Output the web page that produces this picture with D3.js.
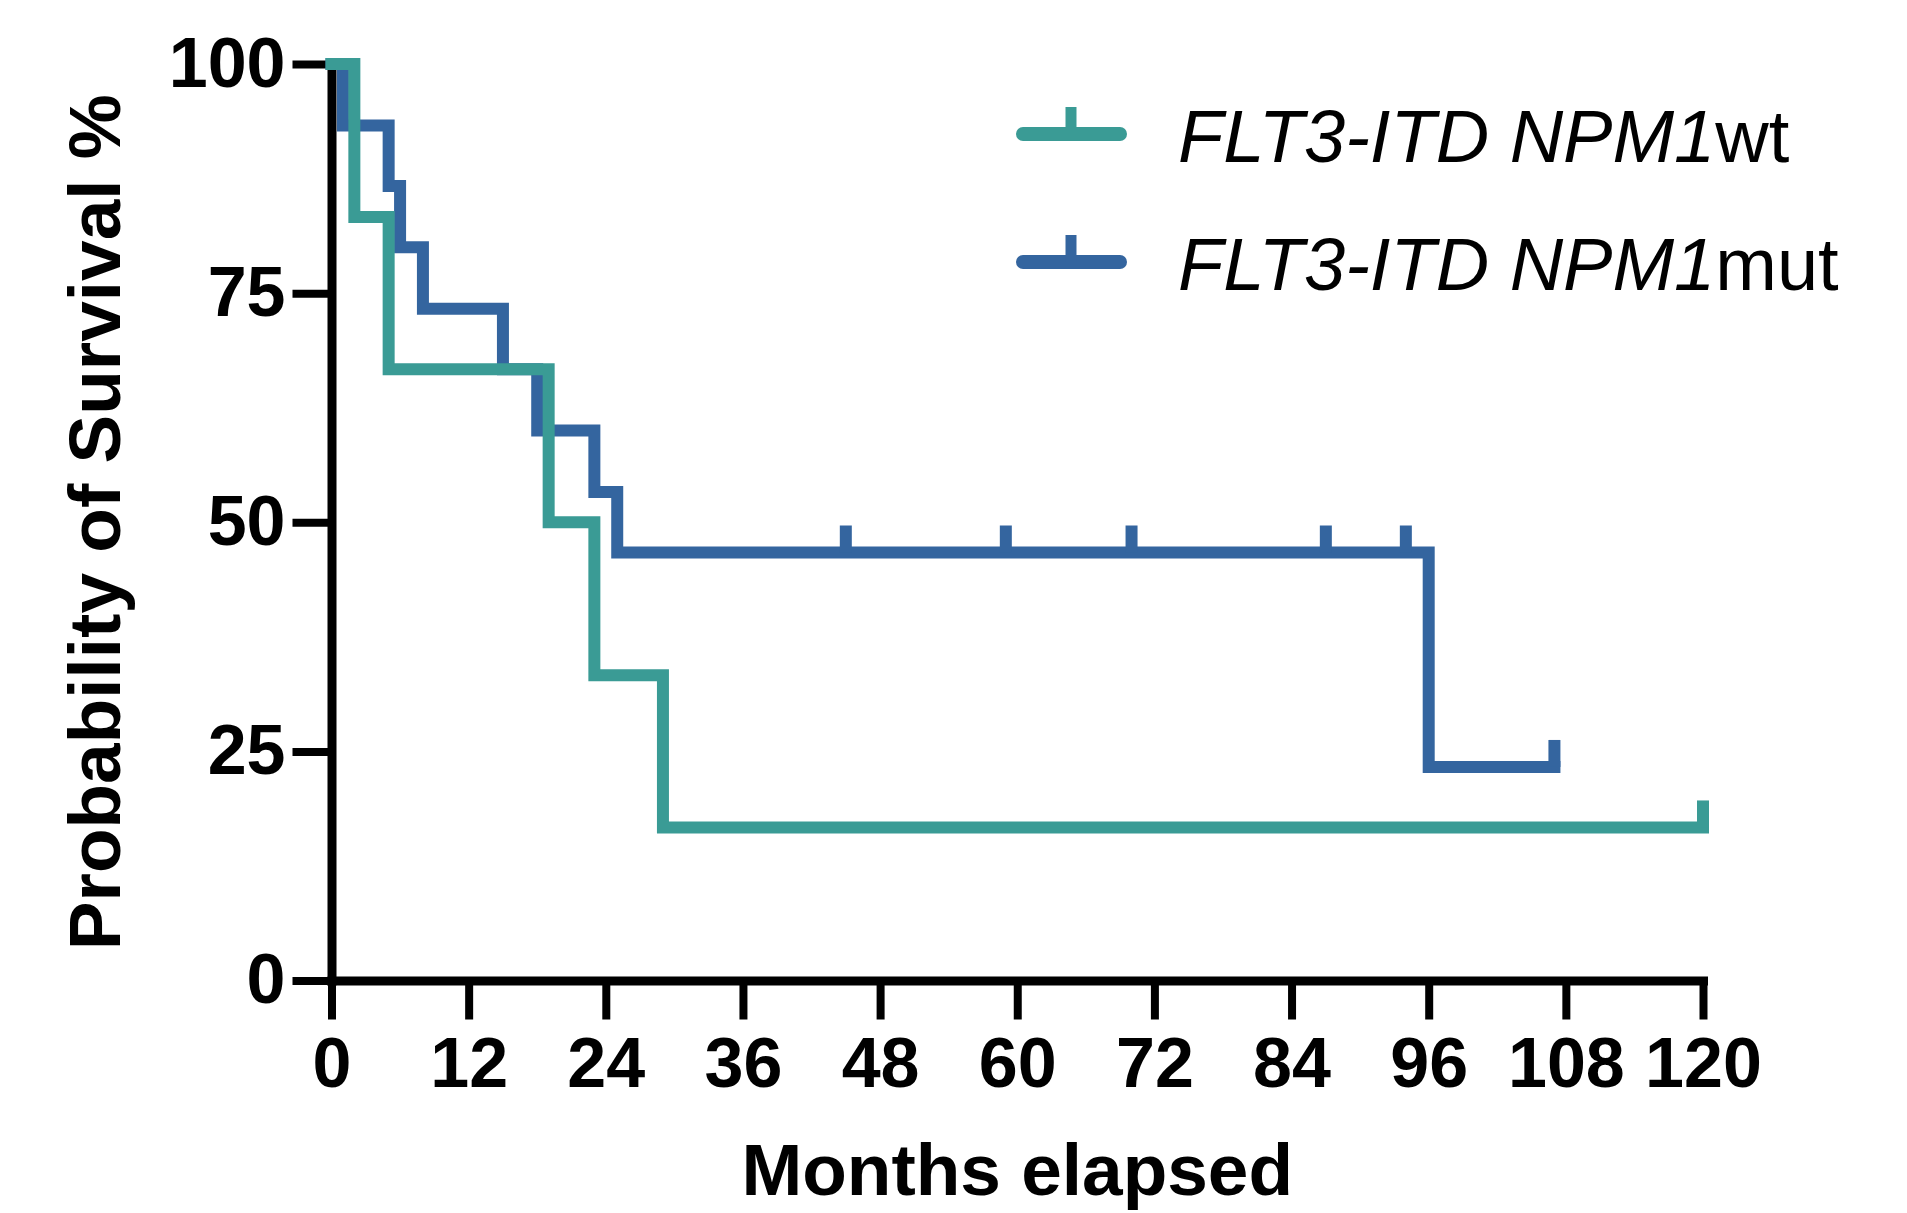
<!DOCTYPE html>
<html>
<head>
<meta charset="utf-8">
<script src="https://cdn.jsdelivr.net/npm/d3@7"></script>
<style>
  html, body { margin: 0; padding: 0; background: #fff; }
  svg { display: block; font-family: "Liberation Sans", Arial, Helvetica, sans-serif; }
</style>
</head>
<body>
<div id="chart"></div>
<script>
// Kaplan-Meier steps (months, survival %)
const wtTimes = [0, 2, 5, 19, 23, 29, 120];
const wtSurvival = [100, 83.3, 66.7, 50, 33.3, 16.7, 16.7];
const wtCensored = [120];

const mutTimes = [0, 1, 5, 6, 8, 15, 18, 23, 25, 96, 107];
const mutSurvival = [100, 93.3, 86.7, 80, 73.3, 66.7, 60, 53.3, 46.7, 23.3, 23.3];
const mutCensored = [45, 59, 70, 87, 94, 107];

const xTicks = [0, 12, 24, 36, 48, 60, 72, 84, 96, 108, 120];
const yTicks = [0, 25, 50, 75, 100];

const seriesNames = ['FLT3-ITD NPM1', 'FLT3-ITD NPM1'];
const seriesSuffix = ['wt', 'mut'];
const seriesColors = ['#3a9b95', '#34659f'];

const width = 1907;
const height = 1213;

document.addEventListener('DOMContentLoaded', () => {
  drawChart();
});

function drawChart() {
  const svg = d3.select('#chart')
    .append('svg')
    .attr('width', width)
    .attr('height', height);

  const x = d3.scaleLinear().domain([0, 120]).range([331.5, 1703]);
  const y = d3.scaleLinear().domain([0, 100]).range([980.5, 64]);

  // axes
  const xAxis = d3.axisBottom(x)
    .tickValues(xTicks)
    .tickSize(39)
    .tickSizeOuter(0)
    .tickPadding(18);

  const yAxis = d3.axisLeft(y)
    .tickValues(yTicks)
    .tickSize(39)
    .tickSizeOuter(0)
    .tickPadding(7);

  const gx = svg.append('g')
    .attr('transform', `translate(0, ${y(0)})`)
    .call(xAxis);

  const gy = svg.append('g')
    .attr('transform', `translate(${x(0)}, 0)`)
    .call(yAxis);

  [gx, gy].forEach(g => {
    g.select('.domain')
      .attr('stroke', '#000')
      .attr('stroke-width', 9)
      .attr('stroke-linecap', 'square');
    g.selectAll('.tick line')
      .attr('stroke', '#000')
      .attr('stroke-width', 8);
    g.selectAll('.tick text')
      .attr('fill', '#000')
      .style('font-size', '70px')
      .style('font-weight', 'bold')
      .style('font-family', '"Liberation Sans", Arial, sans-serif');
  });

  // survival curves, blue first so teal sits on top
  const series = [
    { times: mutTimes, surv: mutSurvival, cens: mutCensored, color: seriesColors[1] },
    { times: wtTimes, surv: wtSurvival, cens: wtCensored, color: seriesColors[0] },
  ];

  const line = d3.line()
    .x(d => x(d[0]))
    .y(d => y(d[1]))
    .curve(d3.curveStepAfter);

  series.forEach(s => {
    const pts = s.times.map((t, i) => [t, s.surv[i]]);
    svg.append('path')
      .datum(pts)
      .attr('d', line)
      .attr('fill', 'none')
      .attr('stroke', s.color)
      .attr('stroke-width', 12)
      .attr('stroke-linejoin', 'miter')
      .attr('stroke-linecap', 'square');

    // censor marks
    svg.append('g')
      .selectAll('line')
      .data(s.cens)
      .join('line')
      .attr('x1', d => x(d))
      .attr('x2', d => x(d))
      .attr('y1', d => y(survivalAt(s, d)))
      .attr('y2', d => y(survivalAt(s, d)) - 27)
      .attr('stroke', s.color)
      .attr('stroke-width', 12);
  });

  // axis titles
  svg.append('text')
    .attr('x', (x(0) + x(120)) / 2)
    .attr('y', 1195)
    .attr('text-anchor', 'middle')
    .style('font-size', '73px')
    .style('font-weight', 'bold')
    .text('Months elapsed');

  svg.append('text')
    .attr('transform', `translate(120, ${(y(0) + y(100)) / 2}) rotate(-90)`)
    .attr('text-anchor', 'middle')
    .style('font-size', '73px')
    .style('font-weight', 'bold')
    .text('Probability of Survival %');

  // legend
  const legend = svg.append('g');
  const rows = [0, 1];
  const rowY = [134, 262];

  rows.forEach(i => {
    const g = legend.append('g').attr('transform', `translate(0, ${rowY[i]})`);
    g.append('line')
      .attr('x1', 1023).attr('x2', 1120)
      .attr('y1', 0).attr('y2', 0)
      .attr('stroke', seriesColors[i])
      .attr('stroke-width', 14)
      .attr('stroke-linecap', 'round');
    g.append('line')
      .attr('x1', 1071).attr('x2', 1071)
      .attr('y1', 0).attr('y2', -27)
      .attr('stroke', seriesColors[i])
      .attr('stroke-width', 11);

    const t = g.append('text')
      .attr('x', 1178)
      .attr('y', 28)
      .style('font-size', '74px');
    t.append('tspan').style('font-style', 'italic').text(seriesNames[i]);
    t.append('tspan').text(seriesSuffix[i]);
  });
}

function survivalAt(s, t) {
  let v = s.surv[0];
  s.times.forEach((tt, i) => { if (tt <= t) v = s.surv[i]; });
  return v;
}
</script>
</body>
</html>
